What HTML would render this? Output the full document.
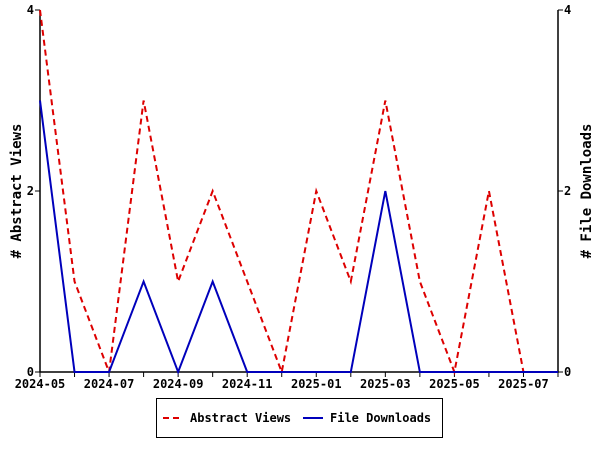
<!DOCTYPE html>
<html><head><meta charset="utf-8"><style>
body{margin:0;background:#fff;width:600px;height:450px;overflow:hidden}
text{font-family:"DejaVu Sans Mono","Liberation Mono",monospace;font-size:12px;font-weight:bold;fill:#000}
</style></head><body>
<svg id="chart" width="600" height="450" xmlns="http://www.w3.org/2000/svg"></svg>
<script>
const months = ["2024-05","2024-06","2024-07","2024-08","2024-09","2024-10","2024-11","2024-12","2025-01","2025-02","2025-03","2025-04","2025-05","2025-06","2025-07","2025-08"];
const abstractViews = [4,1,0,3,1,2,1,0,2,1,3,1,0,2,0,0];
const fileDownloads = [3,0,0,1,0,1,0,0,0,0,2,0,0,0,0,0];
const yTicks = [0,2,4];
const svg = document.getElementById('chart');
const NS = "http://www.w3.org/2000/svg";
const x0=40,x1=558,y0=372,y1=10;
const xs = i => x0 + i*(x1-x0)/(months.length-1);
const ys = v => y0 - v*(y0-y1)/4;
function mk(tag, attrs, name){
  const e=document.createElementNS(NS,tag);
  for(const k in attrs) e.setAttribute(k,attrs[k]);
  
  
  svg.appendChild(e); return e;
}
mk('path',{d:`M${x0} ${y1}V${y0}H${x1}V${y1}`,fill:'none',stroke:'#000','stroke-width':1.5},'axes-frame');
months.forEach((m,i)=>{
  const x=xs(i);
  mk('line',{x1:x,y1:y0,x2:x,y2:y0+5,stroke:'#000'},'x-tick');
  if(i%2===0){const t=mk('text',{x:x,y:y0+16,'text-anchor':'middle'},'x-tick-label');t.textContent=m;}
});
yTicks.forEach(v=>{
  const y=ys(v);
  mk('line',{x1:x0-5,y1:y,x2:x0,y2:y,stroke:'#000'},'y-tick-left');
  mk('line',{x1:x1,y1:y,x2:x1+5,y2:y,stroke:'#000'},'y-tick-right');
  let t=mk('text',{x:x0-6,y:y+4,'text-anchor':'end'},'y-tick-label-left');t.textContent=v;
  t=mk('text',{x:x1+6,y:y+4,'text-anchor':'start'},'y-tick-label-right');t.textContent=v;
});
let t=mk('text',{transform:'translate(21,191) rotate(-90)','text-anchor':'middle','font-size':'14'},'y-axis-title-left');t.textContent='# Abstract Views';t.style.fontSize='14px';
t=mk('text',{transform:'translate(591,191) rotate(-90)','text-anchor':'middle'},'y-axis-title-right');t.textContent='# File Downloads';t.style.fontSize='14px';
mk('polyline',{points:abstractViews.map((v,i)=>xs(i)+','+ys(v)).join(' '),fill:'none',stroke:'#d00','stroke-width':2,'stroke-dasharray':'6,4'},'abstract-views-line');
mk('polyline',{points:fileDownloads.map((v,i)=>xs(i)+','+ys(v)).join(' '),fill:'none',stroke:'#00b','stroke-width':2},'file-downloads-line');
mk('rect',{x:156.5,y:398.5,width:286,height:39,fill:'#fff',stroke:'#000','stroke-width':1},'legend');
mk('line',{x1:163,y1:418,x2:183,y2:418,stroke:'#d00','stroke-width':2,'stroke-dasharray':'6,4'},'legend-swatch-abstract');
t=mk('text',{x:190,y:422},'legend-label-abstract');t.textContent='Abstract Views';
mk('line',{x1:303,y1:418,x2:323,y2:418,stroke:'#00b','stroke-width':2},'legend-swatch-downloads');
t=mk('text',{x:330,y:422},'legend-label-downloads');t.textContent='File Downloads';
</script>
</body></html>
